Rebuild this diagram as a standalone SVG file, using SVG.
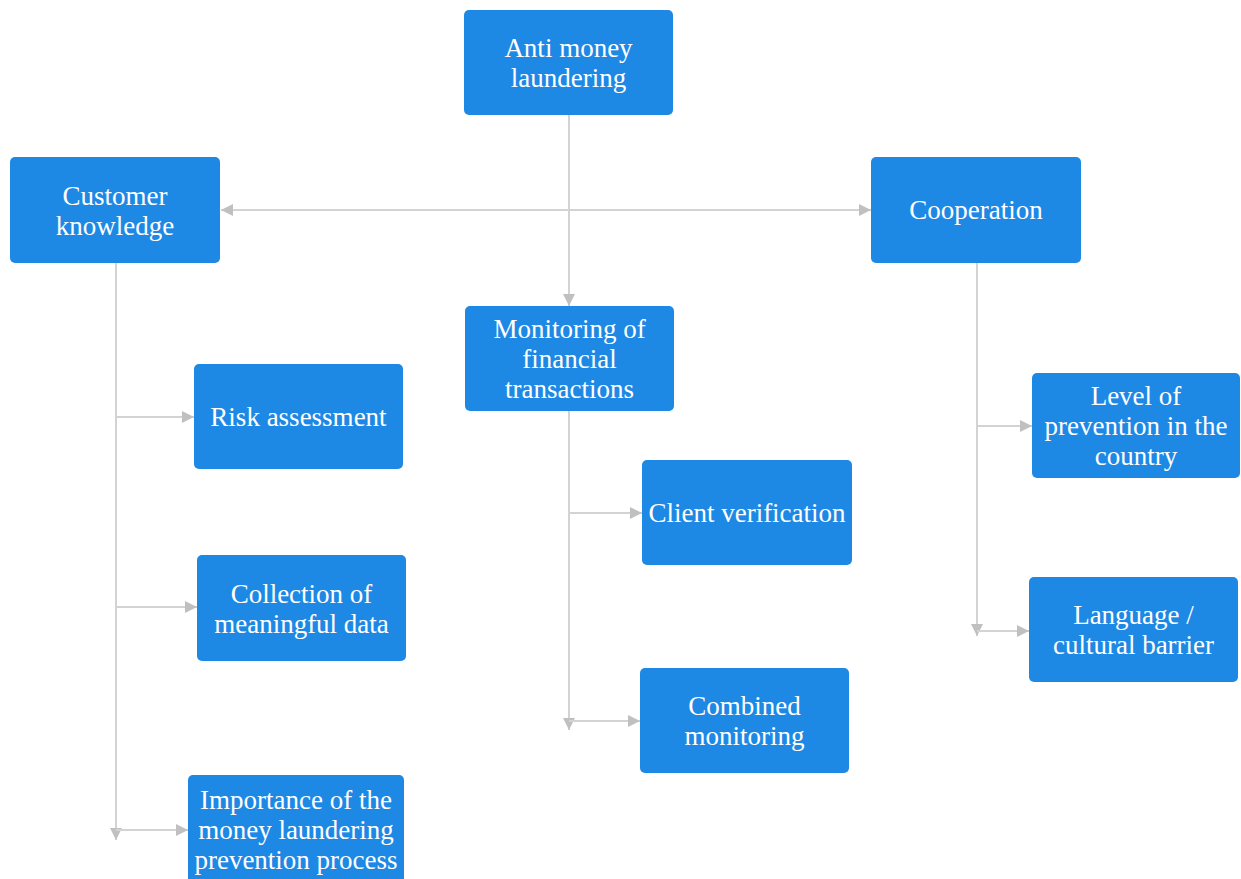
<svg xmlns="http://www.w3.org/2000/svg" width="1241" height="879" viewBox="0 0 1241 879">
<style>
.box{fill:#1e88e5;}
.t{font-family:"Liberation Serif","Times New Roman",serif;font-size:27px;fill:#ffffff;text-anchor:middle;}
.ln{stroke:#d3d3d3;stroke-width:2;fill:none;}
</style>
<defs>
<marker id="ah" markerWidth="14" markerHeight="14" refX="12" refY="7" orient="auto-start-reverse" markerUnits="userSpaceOnUse">
<path d="M0,1 L12,7 L0,13 Z" fill="#c0c0c0"/>
</marker>
</defs>
<rect width="1241" height="879" fill="#ffffff"/>
<g id="connectors">
<path class="ln" d="M569,115 V306" marker-end="url(#ah)"/>
<path class="ln" d="M221,210 H871" marker-start="url(#ah)" marker-end="url(#ah)"/>
<path class="ln" d="M116,263 V840" marker-end="url(#ah)"/>
<path class="ln" d="M116,417 H194" marker-end="url(#ah)"/>
<path class="ln" d="M116,607 H197" marker-end="url(#ah)"/>
<path class="ln" d="M116,830 H188" marker-end="url(#ah)"/>
<path class="ln" d="M569,411 V730" marker-end="url(#ah)"/>
<path class="ln" d="M569,513 H642" marker-end="url(#ah)"/>
<path class="ln" d="M569,721 H640" marker-end="url(#ah)"/>
<path class="ln" d="M977,263 V636" marker-end="url(#ah)"/>
<path class="ln" d="M977,426 H1032" marker-end="url(#ah)"/>
<path class="ln" d="M977,631 H1029" marker-end="url(#ah)"/>
</g>
<g id="aml"><rect class="box" x="464" y="10" width="209" height="105" rx="5"/>
<text class="t" x="568.5" y="57">Anti money</text><text class="t" x="568.5" y="87">laundering</text></g>
<g id="customer"><rect class="box" x="10" y="157" width="210" height="106" rx="5"/>
<text class="t" x="115" y="205">Customer</text><text class="t" x="115" y="235">knowledge</text></g>
<g id="cooperation"><rect class="box" x="871" y="157" width="210" height="106" rx="5"/>
<text class="t" x="976" y="219">Cooperation</text></g>
<g id="monitoring"><rect class="box" x="465" y="306" width="209" height="105" rx="5"/>
<text class="t" x="569.5" y="338">Monitoring of</text><text class="t" x="569.5" y="368">financial</text><text class="t" x="569.5" y="398">transactions</text></g>
<g id="risk"><rect class="box" x="194" y="364" width="209" height="105" rx="5"/>
<text class="t" x="298.5" y="426">Risk assessment</text></g>
<g id="collection"><rect class="box" x="197" y="555" width="209" height="106" rx="5"/>
<text class="t" x="301.5" y="603">Collection of</text><text class="t" x="301.5" y="633">meaningful data</text></g>
<g id="importance"><rect class="box" x="188" y="775" width="216" height="115" rx="5"/>
<text class="t" x="296" y="809">Importance of the</text><text class="t" x="296" y="839">money laundering</text><text class="t" x="296" y="869">prevention process</text></g>
<g id="client"><rect class="box" x="642" y="460" width="210" height="105" rx="5"/>
<text class="t" x="747" y="522">Client verification</text></g>
<g id="combined"><rect class="box" x="640" y="668" width="209" height="105" rx="5"/>
<text class="t" x="744.5" y="715">Combined</text><text class="t" x="744.5" y="745">monitoring</text></g>
<g id="level"><rect class="box" x="1032" y="373" width="208" height="105" rx="5"/>
<text class="t" x="1136" y="405">Level of</text><text class="t" x="1136" y="435">prevention in the</text><text class="t" x="1136" y="465">country</text></g>
<g id="language"><rect class="box" x="1029" y="577" width="209" height="105" rx="5"/>
<text class="t" x="1133.5" y="624">Language /</text><text class="t" x="1133.5" y="654">cultural barrier</text></g>
</svg>
